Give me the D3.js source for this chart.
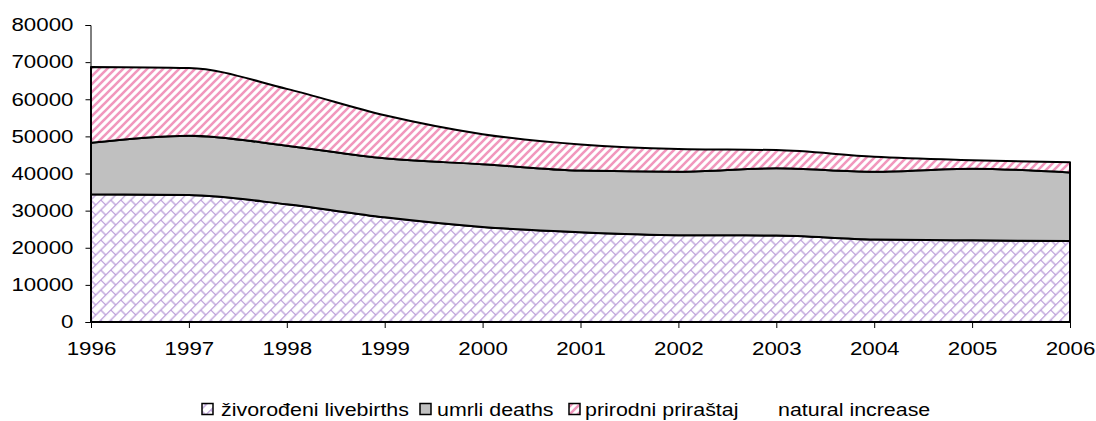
<html>
    <head>
        <script src="https://d3js.org/d3.v7.min.js"></script>
        <style>
            body { margin: 0; background: #fff }
            text { font-family: "Liberation Sans", Arial, sans-serif; fill: #000 }
        </style>
    </head>
    <body>
        <div id="container"></div>
        <script>
            // values
            const years = [1996, 1997, 1998, 1999, 2000, 2001, 2002, 2003, 2004, 2005, 2006]
            const livebirths = [34400, 34200, 31700, 28200, 25600, 24200, 23400, 23300, 22200, 22000, 21800]
            const deaths = [13900, 16000, 15800, 15900, 16900, 16600, 17100, 18100, 18300, 19300, 18500]
            const naturalIncrease = [20400, 18200, 15300, 11600, 8100, 7000, 6100, 4900, 4000, 2300, 2700]
            const yTicks = [0, 10000, 20000, 30000, 40000, 50000, 60000, 70000, 80000]
            const seriesNames = ['živorođeni livebirths', 'umrli deaths', 'prirodni priraštaj']

            const dimensions = { width: 1096, height: 421 }
            const sx = 1.17    // the source text is a bit stretched sideways
            const tsx = 1.24   // tick labels even more so

            const rows = years.map((y, i) => ({
                year: y, lb: livebirths[i], d: deaths[i], ni: naturalIncrease[i]
            }))
            const keys = ['lb', 'd', 'ni']
            const fills = ['url(#brick)', '#c0c0c0', 'url(#stripes)']

            const svg = d3.select('#container')
                .append('svg')
                .attr('width', dimensions.width)
                .attr('height', dimensions.height)

            // patterns
            const defs = svg.append('defs')
            const b = 14.14
            const brick = defs.append('pattern')
                .attr('id', 'brick')
                .attr('patternUnits', 'userSpaceOnUse')
                .attr('width', b).attr('height', b)
                .attr('patternTransform', 'rotate(-45)')
            brick.append('rect').attr('width', b).attr('height', b).attr('fill', '#fff')
            brick.append('path')
                .attr('d', `M0,0.5H${b}M0,${b / 2 + 0.5}H${b}M0.5,0.5V${b / 2 + 0.5}M${b / 2 + 0.5},${b / 2 + 0.5}V${b}`)
                .attr('stroke', '#b595d6').attr('stroke-width', 1.2).attr('fill', 'none')

            const stripes = defs.append('pattern')
                .attr('id', 'stripes')
                .attr('patternUnits', 'userSpaceOnUse')
                .attr('width', 8).attr('height', 8)
            stripes.append('rect').attr('width', 8).attr('height', 8).attr('fill', '#fff')
            stripes.append('path')
                .attr('d', 'M-2,2L2,-2M0,8L8,0M6,10L10,6')
                .attr('stroke', '#f197bd').attr('stroke-width', 2.6)

            const x = d3.scaleLinear().domain([1996, 2006]).range([91, 1070])
            const y = d3.scaleLinear().domain([0, 80000]).range([322, 25])

            const stack = d3.stack().keys(keys)(rows)

            const area = d3.area()
                .x(d => x(d.data.year))
                .y0(d => y(d[0]))
                .y1(d => y(d[1]))
                .curve(d3.curveMonotoneX)

            svg.selectAll('path.layer')
                .data(stack)
                .enter()
                .append('path')
                .attr('class', 'layer')
                .attr('d', area)
                .attr('fill', (d, i) => fills[i])
                .attr('stroke', '#000')
                .attr('stroke-width', 2)
                .attr('stroke-linejoin', 'round')

            // axes
            const yAxis = svg.append('g')
                .attr('transform', 'translate(90.5,0)')
                .call(d3.axisLeft(y).tickValues(yTicks).tickSize(5).tickPadding(12).tickFormat(d3.format('d')))
            const xAxis = svg.append('g')
                .attr('transform', 'translate(0,322)')
                .call(d3.axisBottom(x).tickValues(years).tickSize(6).tickPadding(14).tickFormat(d3.format('d')))

            svg.selectAll('.domain, .tick line').attr('stroke', '#000')
            svg.selectAll('.tick text')
                .attr('font-size', 18)
                .attr('font-family', '"Liberation Sans", Arial, sans-serif')
                .attr('fill', '#000')

            // stretch tick labels sideways around their anchor
            yAxis.selectAll('.tick text').each(function() {
                const t = d3.select(this)
                const tx = +t.attr('x')
                t.attr('x', tx / tsx).attr('transform', `scale(${tsx},1)`)
            })
            xAxis.selectAll('.tick text').attr('transform', `scale(${tsx},1)`)

            // legend
            const legend = svg.append('g')
            const items = [
                { box: 202, text: 221, fill: fills[0], label: seriesNames[0] },
                { box: 420, text: 437, fill: fills[1], label: seriesNames[1] },
                { box: 569, text: 585, fill: fills[2], label: seriesNames[2] }
            ]
            items.forEach(it => {
                legend.append('rect')
                    .attr('x', it.box).attr('y', 403.5)
                    .attr('width', 11).attr('height', 11)
                    .attr('fill', it.fill)
                    .attr('stroke', '#000').attr('stroke-width', 1.5)
                legend.append('text')
                    .attr('transform', `translate(${it.text},416) scale(${sx},1)`)
                    .attr('font-size', 18.3)
                    .text(it.label)
            })
            legend.append('text')
                .attr('transform', `translate(778,416) scale(${sx},1)`)
                .attr('font-size', 18.3)
                .text('natural increase')
        </script>
    </body>
</html>
